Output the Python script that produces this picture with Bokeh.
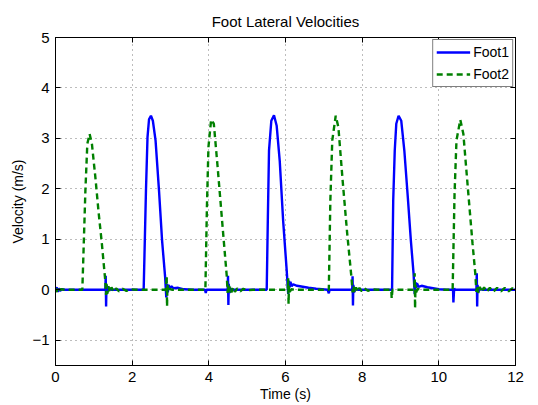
from bokeh.plotting import figure
from bokeh.models import Range1d, LinearAxis, FixedTicker, Legend, LegendItem, ColumnDataSource
from bokeh.embed import file_html
from bokeh.resources import INLINE

TITLE = "Foot Lateral Velocities"
X_LABEL = "Time (s)"
Y_LABEL = "Velocity (m/s)"
X_TICKS = [0, 2, 4, 6, 8, 10, 12]
Y_TICKS = [-1, 0, 1, 2, 3, 4, 5]
Y_TICK_LABELS = {-1: "\u22121"}

foot1_t = [0.00, 0.03, 0.06, 0.09, 0.12, 0.16, 0.25, 1.30, 1.31, 1.32, 1.33, 1.35, 1.38, 1.45,
           2.30, 2.33, 2.36, 2.40, 2.44, 2.49, 2.54, 2.61, 2.70, 2.78, 2.86, 2.89, 2.91, 2.93,
           2.95, 2.98, 3.02, 3.08, 3.20, 3.35, 3.60, 3.90, 3.92, 3.94, 4.49, 4.50, 4.51, 4.52,
           4.54, 4.57, 4.65, 5.51, 5.54, 5.57, 5.63, 5.70, 5.77, 5.85, 5.94, 6.03, 6.07, 6.09,
           6.11, 6.13, 6.16, 6.20, 6.30, 6.45, 6.60, 6.80, 7.10, 7.13, 7.15, 7.74, 7.75, 7.76,
           7.77, 7.79, 7.82, 7.90, 8.78, 8.81, 8.85, 8.89, 8.95, 9.02, 9.10, 9.19, 9.27, 9.34,
           9.37, 9.39, 9.41, 9.43, 9.47, 9.55, 9.70, 9.85, 10.00, 10.20, 10.37, 10.38, 10.40,
           10.42, 10.98, 10.99, 11.00, 11.01, 11.03, 11.06, 11.15, 12.00]
foot1_v = [0.00, 0.05, -0.04, 0.03, -0.02, 0.01, 0.00, 0.00, 0.28, -0.33, 0.10, -0.05, 0.03, 0.00,
           0.00, 0.98, 1.97, 3.02, 3.38, 3.45, 3.35, 2.96, 1.97, 0.98, 0.25, -0.15, 0.12, -0.05,
           0.10, 0.02, 0.07, 0.03, 0.04, 0.01, 0.00, 0.00, -0.06, 0.00, 0.00, 0.28, -0.30, 0.12,
           -0.06, 0.02, 0.00, 0.00, 1.44, 2.76, 3.35, 3.46, 3.25, 2.55, 1.35, 0.40, -0.08, 0.18,
           0.05, 0.16, 0.07, 0.11, 0.08, 0.06, 0.04, 0.02, 0.00, -0.07, 0.00, 0.00, 0.27, -0.31,
           0.10, -0.05, 0.02, 0.00, 0.00, 1.77, 2.76, 3.29, 3.45, 3.35, 2.76, 1.84, 0.98, 0.33,
           -0.08, 0.15, 0.04, 0.13, 0.06, 0.08, 0.05, 0.03, 0.01, 0.00, 0.00, -0.25, 0.03,
           0.00, 0.00, 0.33, -0.33, 0.10, -0.05, 0.02, 0.00, 0.00]

foot2_t = [0.00, 0.03, 0.06, 0.09, 0.14, 0.25, 0.70, 0.74, 0.78, 0.83, 0.89, 0.95, 1.04, 1.12,
           1.21, 1.29, 1.31, 1.32, 1.33, 1.35, 1.38, 1.42, 1.46, 1.52, 1.58, 1.66, 1.75, 1.85,
           1.95, 2.10, 2.88, 2.90, 2.91, 2.92, 2.94, 2.97, 3.05, 3.91, 3.95, 3.99, 4.06, 4.13,
           4.23, 4.36, 4.47, 4.49, 4.50, 4.52, 4.55, 4.59, 4.63, 4.68, 4.74, 4.82, 4.90, 5.00,
           5.15, 6.06, 6.07, 6.08, 6.09, 6.11, 6.15, 6.25, 7.13, 7.17, 7.22, 7.31, 7.38, 7.49,
           7.61, 7.72, 7.75, 7.77, 7.80, 7.84, 7.88, 7.93, 7.99, 8.06, 8.15, 8.25, 8.40, 8.76,
           8.77, 8.79, 9.36, 9.37, 9.38, 9.39, 9.41, 9.44, 9.55, 10.36, 10.41, 10.46, 10.56,
           10.64, 10.77, 10.88, 10.95, 10.98, 11.00, 11.03, 11.07, 11.12, 11.18, 11.25, 11.33,
           11.42, 11.52, 11.62, 11.72, 11.82, 11.92, 12.00]
foot2_v = [0.00, -0.04, 0.04, -0.02, 0.01, 0.00, 0.00, 0.98, 1.97, 2.89, 3.09, 2.89, 2.23, 1.57,
           0.91, 0.25, 0.05, -0.10, 0.12, -0.08, 0.07, -0.05, 0.05, -0.04, 0.03, -0.03, 0.02, -0.02,
           0.01, 0.00, 0.00, 0.28, -0.33, 0.10, -0.04, 0.02, 0.00, 0.00, 1.64, 2.83, 3.37, 3.29,
           2.43, 1.24, 0.25, -0.06, 0.10, -0.07, 0.06, -0.05, 0.05, -0.04, 0.03, -0.03, 0.02, -0.01,
           0.00, 0.00, 0.23, -0.28, 0.08, -0.04, 0.01, 0.00, 0.00, 1.77, 2.96, 3.45, 3.22, 2.17,
           1.11, 0.25, -0.05, 0.08, -0.06, 0.05, -0.04, 0.04, -0.03, 0.03, -0.02, 0.01, 0.00, 0.00,
           -0.17, 0.00, 0.00, 0.33, -0.37, 0.10, -0.05, 0.02, 0.00, 0.00, 1.90, 2.96, 3.37,
           3.09, 1.90, 0.91, 0.33, -0.04, 0.08, -0.06, 0.06, -0.05, 0.05, -0.04, 0.04,
           -0.04, 0.04, -0.03, 0.04, -0.03, 0.03, 0.00]

FONT = "Liberation Sans"

p = figure(width=538, height=405, output_backend="svg", toolbar_location=None,
           x_range=Range1d(0, 12), y_range=Range1d(-1.5, 5),
           title=TITLE, min_border_left=55, min_border_right=23,
           min_border_top=37, min_border_bottom=40)

p.title.align = "center"
p.title.text_font = FONT
p.title.text_font_size = "15px"
p.title.text_font_style = "normal"
p.title.text_color = "#000000"
p.title.standoff = 16

p.xaxis.ticker = FixedTicker(ticks=X_TICKS)
p.yaxis.ticker = FixedTicker(ticks=Y_TICKS)
p.yaxis.major_label_overrides = Y_TICK_LABELS
p.xaxis.axis_label = X_LABEL
p.yaxis.axis_label = Y_LABEL

for ax in [p.xaxis[0], p.yaxis[0]]:
    ax.major_tick_in = 5
    ax.major_tick_out = 0
    ax.minor_tick_line_color = None
    ax.axis_line_color = "black"
    ax.major_tick_line_color = "black"
    ax.major_label_text_font = FONT
    ax.major_label_text_font_size = "15px"
    ax.major_label_text_color = "#000000"
    ax.axis_label_text_font = FONT
    ax.axis_label_text_font_size = "14px"
    ax.axis_label_text_font_style = "normal"
    ax.axis_label_text_color = "#000000"
p.xaxis.axis_label_standoff = 1
p.yaxis.axis_label_standoff = 3
p.xaxis.major_label_standoff = 6
p.yaxis.major_label_standoff = 6

top_ax = LinearAxis(ticker=FixedTicker(ticks=X_TICKS), major_tick_in=5, major_tick_out=0,
                    minor_tick_line_color=None, major_label_text_font_size="1px",
                    major_label_overrides={t: "" for t in X_TICKS},
                    major_label_standoff=0, axis_line_color="black")
right_ax = LinearAxis(ticker=FixedTicker(ticks=Y_TICKS), major_tick_in=5, major_tick_out=0,
                      minor_tick_line_color=None, major_label_text_font_size="1px",
                      major_label_overrides={t: "" for t in Y_TICKS},
                      major_label_standoff=0, axis_line_color="black")
p.add_layout(top_ax, "above")
p.add_layout(right_ax, "right")

for g in [p.xgrid[0], p.ygrid[0]]:
    g.grid_line_color = "#7a7a7a"
    g.grid_line_dash = "1 4"
    g.grid_line_width = 1

p.outline_line_color = "black"
p.background_fill_color = "white"
p.border_fill_color = "white"

s1 = ColumnDataSource(dict(t=foot1_t, v=foot1_v))
s2 = ColumnDataSource(dict(t=foot2_t, v=foot2_v))
r1 = p.line("t", "v", source=s1, line_color="#0000ff", line_width=2.4)
r2 = p.line("t", "v", source=s2, line_color="#008000", line_width=2.4, line_dash="6 4")

legend = Legend(items=[LegendItem(label="Foot1", renderers=[r1]),
                       LegendItem(label="Foot2", renderers=[r2])],
                location="top_right")
legend.margin = 2
legend.padding = 3
legend.spacing = 4
legend.glyph_width = 34
legend.glyph_height = 18
legend.label_height = 18
legend.label_standoff = 3
legend.label_text_font = FONT
legend.label_text_font_size = "14px"
legend.label_text_color = "#000000"
legend.border_line_color = "black"
legend.border_line_width = 1
legend.background_fill_alpha = 1
p.add_layout(legend)

open("out.html", "w").write(file_html(p, INLINE))
